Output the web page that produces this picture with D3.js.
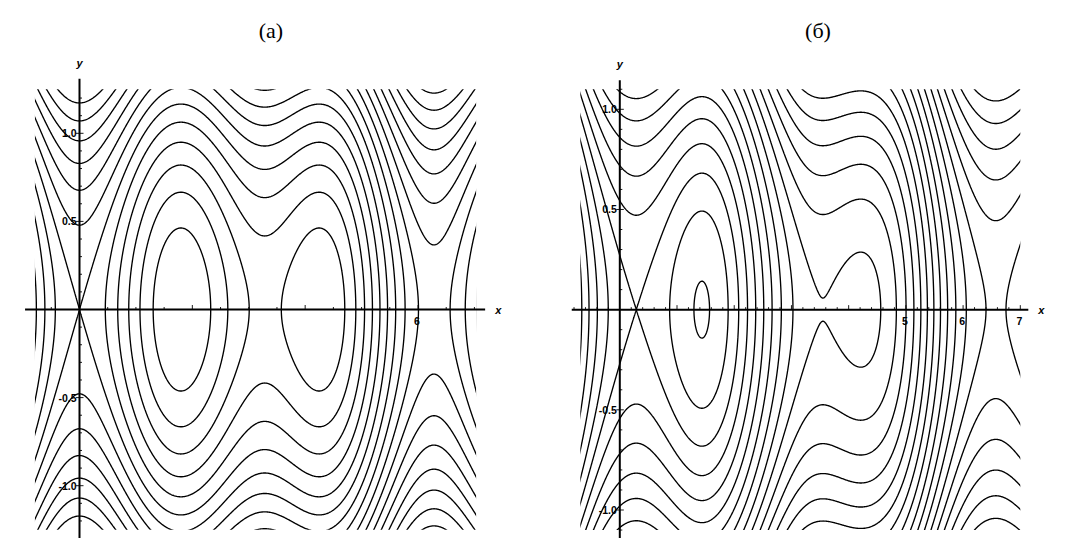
<!DOCTYPE html>
<html><head><meta charset="utf-8">
<script src="https://cdn.jsdelivr.net/npm/d3@7"></script>
<style>body{margin:0;background:#fff}svg{display:block}</style>
</head><body>
<svg id="chart" width="1065" height="553"></svg>
<script>
// ---------- data ----------
// Panel (а): points where contour lines cross the x axis (x, contour index)
const crossXA     = [-0.69,-0.54,-0.35,0.50,0.71,0.90,1.09,1.29,2.31,2.61,3.01,3.54,4.69,4.91,5.07,5.21,5.35,5.49,5.63,5.77,6.02,6.63,6.87];
const crossLevelA = [3,4,5,5,4,3,2,1,1,2,3,3,3,4,5,6,7,8,9,10,11,11,10];
// equilibria on the x axis (x, value in contour-index units)
const eqXA        = [0, 1.80, 3.27, 4.25, 6.33];
const eqLevelA    = [6, 0.01, 3.18, 2.19, 11.43];
const stepA       = 0.1145;          // contour spacing, in units of y^2/2
const exactA      = [0];             // equilibria that must be met exactly (indices into eqXA)

// Panel (б)
const crossXB     = [-0.515,-0.37,-0.18,0.824,1.277,1.579,1.916,2.10,2.25,2.39,2.52,2.63,2.80,3.01,4.56,4.83,5.00,5.15,5.26,5.37,5.48,5.60,5.74,5.89,6.03,6.38,6.76];
const crossLevelB = [0,1,2,2,1,1,2,3,4,5,6,7,8,9,10,11,12,13,14,15,16,17,18,19,20,21,21];
const eqXB        = [0.288, 1.434, 3.55, 4.21, 6.60];
const eqLevelB    = [3, 0.913, 9.985, 9.61, 21.1];
const stepB       = 0.111;
const exactB      = [0, 2];

const levels = d3.range(-4, 36);   // contour indices

// ticks
const xMajorA = [2, 4, 6], xLabelA = [6];
const xMajorB = [1, 2, 3, 4, 5, 6, 7], xLabelB = [5, 6, 7];
const yMajor  = [-1.0, -0.5, 0.5, 1.0], yLabel = ["-1.0", "-0.5", "0.5", "1.0"];
const titles  = ["(\u0430)", "(\u0431)"];

// ---------- potential fitted to the readings ----------
const basis  = (x, h) => [1, x].concat(...d3.range(1, h + 1).map(k => [Math.cos(k*x), Math.sin(k*x)]));
const dbasis = (x, h) => [0, 1].concat(...d3.range(1, h + 1).map(k => [-k*Math.sin(k*x), k*Math.cos(k*x)]));

function solve(A, b) {
  const n = b.length;
  const M = A.map((r, i) => r.concat([b[i]]));
  for (let c = 0; c < n; c++) {
    let p = c;
    for (let r = c + 1; r < n; r++) if (Math.abs(M[r][c]) > Math.abs(M[p][c])) p = r;
    [M[c], M[p]] = [M[p], M[c]];
    for (let r = 0; r < n; r++) if (r !== c) {
      const f = M[r][c] / M[c][c];
      for (let k = c; k <= n; k++) M[r][k] -= f * M[c][k];
    }
  }
  return M.map((r, i) => r[n] / r[i]);
}

// least squares with exact equality constraints (KKT system)
function fitPotential(cx, cl, ex, el, exact, h, w) {
  const rows = [], rhs = [], C = [], d = [];
  cx.forEach((x, i) => { rows.push(basis(x, h)); rhs.push(cl[i]); });
  ex.forEach((x, i) => {
    if (exact.includes(i)) {
      C.push(basis(x, h)); d.push(el[i]);
      C.push(dbasis(x, h)); d.push(0);
    } else {
      rows.push(basis(x, h).map(v => v * w)); rhs.push(el[i] * w);
      rows.push(dbasis(x, h).map(v => v * w)); rhs.push(0);
    }
  });
  const n = rows[0].length, m = C.length;
  const K = d3.range(n + m).map(() => new Array(n + m).fill(0));
  const r = new Array(n + m).fill(0);
  for (let i = 0; i < n; i++) {
    for (let j = 0; j < n; j++) K[i][j] = 2 * d3.sum(rows, q => q[i] * q[j]);
    r[i] = 2 * d3.sum(rows, (q, k) => q[i] * rhs[k]);
    for (let j = 0; j < m; j++) { K[i][n + j] = C[j][i]; K[n + j][i] = C[j][i]; }
  }
  for (let j = 0; j < m; j++) r[n + j] = d[j];
  const c = solve(K, r).slice(0, n);
  return x => d3.sum(basis(x, h), (v, i) => v * c[i]);
}

// ---------- drawing ----------
const svg = d3.select("#chart");
svg.append("rect").attr("width", 1065).attr("height", 553).attr("fill", "#fff");

const panels = [
  { id: "a", title: titles[0], titleX: 271,
    x: d3.scaleLinear().domain([0, 6]).range([79.5, 418]),
    y: d3.scaleLinear().domain([-1, 1]).range([485.7, 133.3]),
    plotX: [-0.79, 7.03], plotY: [-1.25, 1.25],
    axisX: [-0.965, 7.19], axisY: [-1.297, 1.31],
    minorX: 0.5, majorX: xMajorA, labelX: xLabelA,
    V: fitPotential(crossXA, crossLevelA, eqXA, eqLevelA, exactA, 3, 3), step: stepA },
  { id: "b", title: titles[1], titleX: 818,
    x: d3.scaleLinear().domain([0, 7]).range([619.8, 1020.3]),
    y: d3.scaleLinear().domain([-1, 1]).range([510, 109.3]),
    plotX: [-0.69, 7.0], plotY: [-1.1, 1.1],
    axisX: [-0.84, 7.14], axisY: [-1.14, 1.145],
    minorX: 0.2, majorX: xMajorB, labelX: xLabelB,
    V: fitPotential(crossXB, crossLevelB, eqXB, eqLevelB, exactB, 5, 4), step: stepB }
];

panels.forEach(p => {
  const g = svg.append("g");
  const x0 = p.plotX[0] - 0.08, x1 = p.plotX[1] + 0.08;
  const y0 = p.plotY[0] - 0.03, y1 = p.plotY[1] + 0.03;
  const nx = 760, ny = 640;
  const gx = d3.scaleLinear().domain([0.5, nx - 0.5]).range([x0, x1]);
  const gy = d3.scaleLinear().domain([0.5, ny - 0.5]).range([y1, y0]);
  const vx = d3.range(nx).map(i => p.V(gx(i + 0.5)));
  const values = new Float64Array(nx * ny);
  for (let j = 0; j < ny; j++) {
    const yy = gy(j + 0.5), k = yy * yy / (2 * p.step);
    for (let i = 0; i < nx; i++) values[j * nx + i] = vx[i] + k;
  }
  const contours = d3.contours().size([nx, ny]).thresholds(levels)(values);
  const proj = d3.geoTransform({ point(a, b) { this.stream.point(p.x(gx(a)), p.y(gy(b))); } });
  const path = d3.geoPath(proj);

  const clipId = "clip-" + p.id;
  svg.append("clipPath").attr("id", clipId).append("rect")
    .attr("x", p.x(p.plotX[0])).attr("y", p.y(p.plotY[1]))
    .attr("width", p.x(p.plotX[1]) - p.x(p.plotX[0]))
    .attr("height", p.y(p.plotY[0]) - p.y(p.plotY[1]));

  g.append("g").attr("clip-path", `url(#${clipId})`)
    .selectAll("path").data(contours).join("path")
    .attr("d", path).attr("fill", "none").attr("stroke", "#000")
    .attr("stroke-width", 1.35).attr("stroke-linejoin", "round");

  // axes
  const ax = g.append("g").attr("stroke", "#000");
  const yz = p.y(0), xz = p.x(0);
  ax.append("line").attr("x1", p.x(p.axisX[0])).attr("x2", p.x(p.axisX[1]))
    .attr("y1", yz).attr("y2", yz).attr("stroke-width", 2);
  ax.append("line").attr("y1", p.y(p.axisY[0])).attr("y2", p.y(p.axisY[1]))
    .attr("x1", xz).attr("x2", xz).attr("stroke-width", 2);

  const isMajX = d => p.majorX.some(m => Math.abs(m - d) < 1e-6);
  const isMajY = d => yMajor.some(m => Math.abs(m - d) < 1e-6);
  const minorXs = d3.range(Math.ceil(p.axisX[0] / p.minorX) * p.minorX, p.axisX[1], p.minorX)
    .filter(v => Math.abs(v) > 1e-9);
  ax.selectAll(".mx").data(minorXs).join("line")
    .attr("x1", d => p.x(d)).attr("x2", d => p.x(d))
    .attr("y1", yz).attr("y2", d => yz - (isMajX(d) ? 4.5 : 2.5))
    .attr("stroke-width", 0.9);
  const minorYs = d3.range(-1.2, 1.21, 0.1).filter(v => Math.abs(v) > 1e-6 && v > p.axisY[0] && v < p.axisY[1]);
  ax.selectAll(".my").data(minorYs).join("line")
    .attr("y1", d => p.y(d)).attr("y2", d => p.y(d))
    .attr("x1", d => xz - (isMajY(d) ? 3.5 : 0)).attr("x2", d => xz + (isMajY(d) ? 4 : 2.5))
    .attr("stroke-width", 0.9);

  const font = "'Liberation Sans', Arial, sans-serif";
  g.selectAll(".xl").data(p.labelX).join("text")
    .attr("x", d => p.x(d) - 1).attr("y", yz + 15.5)
    .attr("text-anchor", "middle").attr("font-family", font).attr("font-size", 10.5)
    .attr("font-weight", "bold").text(d => d);
  g.selectAll(".yl").data(yMajor).join("text")
    .attr("x", xz - 3).attr("y", d => p.y(d) + 4)
    .attr("text-anchor", "end").attr("font-family", font).attr("font-size", 10.5)
    .attr("font-weight", "bold").text((d, i) => yLabel[i]);
  g.append("text").attr("x", p.x(p.axisX[1]) + 10).attr("y", yz + 4)
    .attr("font-family", font).attr("font-style", "italic").attr("font-size", 11)
    .attr("font-weight", "bold").text("x");
  g.append("text").attr("x", xz).attr("y", p.y(p.axisY[1]) - 12)
    .attr("text-anchor", "middle").attr("font-family", font).attr("font-style", "italic")
    .attr("font-size", 11).attr("font-weight", "bold").text("y");
  g.append("text").attr("x", p.titleX).attr("y", 38).attr("text-anchor", "middle")
    .attr("font-family", "'Liberation Serif', 'Times New Roman', serif").attr("font-size", 22)
    .text(p.title);
});
</script>
</body></html>
